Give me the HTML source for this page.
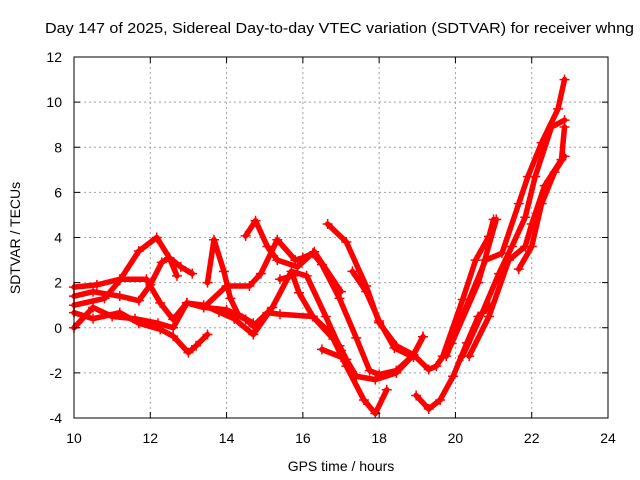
<!DOCTYPE html>
<html><head><meta charset="utf-8"><style>
body{margin:0;background:#fff}
svg{display:block;font-family:"Liberation Sans",sans-serif}
</style></head><body>
<svg id="chart" width="640" height="480" xmlns="http://www.w3.org/2000/svg">
<text x="45" y="33" font-size="15" textLength="589" lengthAdjust="spacingAndGlyphs">Day 147 of 2025, Sidereal Day-to-day VTEC variation (SDTVAR) for receiver whng</text>
<text x="341" y="471" font-size="14" text-anchor="middle">GPS time / hours</text>
<text transform="translate(20,238) rotate(-90)" font-size="14" text-anchor="middle">SDTVAR / TECUs</text>
<g id="grid"></g><g id="series"></g><g id="axes"></g>
</svg>
<script>
const xTicks=[10,12,14,16,18,20,22,24];
const yTicks=[-4,-2,0,2,4,6,8,10,12];
const trackA=[[10,1.0],[10.8,1.3],[11.2,2.1],[11.7,3.4],[12.17,4.0],[12.5,3.1],[12.8,2.7],[13.1,2.4]];
const trackA2=[[12.5,3.1],[12.7,2.3]];
const trackC=[[10.0,1.4],[10.5,1.6],[11.2,1.4],[11.7,1.2],[12.0,1.9],[12.3,2.9],[12.5,3.1]];
const trackD=[[10.0,1.8],[10.6,1.9],[11.2,2.15],[11.9,2.15],[12.26,1.1],[12.6,0.37],[12.96,1.1],[13.4,0.9],[14.0,0.8],[14.5,0.37],[14.7,0.07],[15.07,0.67],[15.4,0.6],[16.26,0.5],[16.7,-0.2],[16.96,-0.8],[17.14,-1.4],[17.4,-2.15],[17.9,-2.3],[18.45,-2.0],[18.9,-1.2],[19.15,-0.4]];
const trackE=[[10.0,0.67],[10.5,0.4],[11.2,0.67],[11.7,0.2],[12.26,-0.07],[12.6,-0.37],[13.0,-1.1],[13.2,-0.8],[13.5,-0.3]];
const trackF=[[10.0,0.0],[10.5,0.9],[11.0,0.5],[11.6,0.4],[12.2,0.2],[12.6,0.0],[12.96,1.1],[13.4,1.0],[13.8,0.7],[14.2,0.4],[14.7,-0.3],[15.2,0.9],[15.7,2.5],[16.1,2.3],[16.6,0.5],[17.0,-1.0]];
const trackG=[[13.5,2.0],[13.67,3.9],[13.93,2.5],[14.1,1.3],[14.3,0.6],[14.7,0.2]];
const trackH=[[13.4,0.9],[14.0,1.85],[14.6,1.85],[14.9,2.4],[15.33,3.9],[15.8,3.0],[16.0,3.1],[16.26,3.3],[16.5,2.8],[16.96,1.3],[17.4,-0.45],[17.75,-1.9],[18.0,-2.07],[18.45,-1.9],[18.9,-1.2],[19.15,-0.4]];
const trackI=[[14.5,4.07],[14.76,4.74],[15.07,3.6],[15.33,3.0],[15.86,2.7],[16.3,3.37],[17.0,1.6]];
const trackJ=[[15.4,2.15],[15.74,2.3],[15.9,1.55],[16.26,0.5],[16.8,-0.5],[17.14,-1.7],[17.6,-3.2],[17.9,-3.8],[18.2,-2.75]];
const trackK=[[16.65,4.6],[17.14,3.8],[17.66,1.85],[18.0,0.22],[18.45,-0.8],[18.9,-1.2],[19.3,-1.85],[19.5,-1.7],[19.9,-0.7],[20.6,2.0],[21.07,4.8]];
const trackL=[[17.3,2.5],[17.66,1.6],[18.0,0.3],[18.4,-0.9],[18.9,-1.3]];
const trackM=[[16.5,-0.96],[17.0,-1.3]];
const trackN=[[18.97,-3.0],[19.3,-3.6],[19.6,-3.2],[19.94,-2.15],[20.3,-0.67],[20.6,0.5],[20.9,0.95]];
const trackO=[[19.67,-1.26],[20.19,1.25],[20.53,3.0],[20.88,4.05],[21.0,4.8]];
const trackP=[[19.76,-1.26],[20.36,1.25],[20.79,3.0],[21.22,3.3],[21.66,5.5],[21.9,6.7],[22.26,8.2],[22.69,9.7],[22.86,11.0]];
const trackQ=[[20.19,-1.26],[20.7,0.65],[21.14,2.4],[21.48,3.6],[21.83,4.9],[22.09,6.7],[22.52,8.9],[22.86,9.2]];
const trackR=[[20.36,-1.26],[20.88,0.5],[21.4,3.0],[21.83,3.6],[22.0,4.6],[22.34,6.3],[22.78,7.45],[22.86,8.9]];
const trackS=[[21.66,2.6],[22.0,3.6],[22.26,5.5],[22.6,6.9],[22.86,7.6]];
const tracks=[trackA,trackA2,trackC,trackD,trackE,trackF,trackG,trackH,trackI,trackJ,trackK,trackL,trackM,trackN,trackO,trackP,trackQ,trackR,trackS];

const L=74,R=608,T=57,B=418,xmin=10,xmax=24,ymin=-4,ymax=12;
const sx=h=>L+(h-xmin)/(xmax-xmin)*(R-L);
const sy=v=>B-(v-ymin)/(ymax-ymin)*(B-T);
const NS="http://www.w3.org/2000/svg";
function mk(tag,attrs,parent){const e=document.createElementNS(NS,tag);for(const k in attrs)e.setAttribute(k,attrs[k]);parent.appendChild(e);return e;}
const grid=document.getElementById('grid'),axes=document.getElementById('axes'),ser=document.getElementById('series');
xTicks.forEach(t=>{const x=sx(t);
 if(t>xmin&&t<xmax){const g=mk('line',{x1:x,x2:x,y1:T,y2:B,stroke:'#a0a0a0','stroke-dasharray':'2,3'},grid);
 
 }
 mk('line',{x1:x,x2:x,y1:B,y2:B-6,stroke:'#000'},axes);mk('line',{x1:x,x2:x,y1:T,y2:T+6,stroke:'#000'},axes);
 const tx=mk('text',{x:x,y:B+25,'font-size':14,'text-anchor':'middle'},axes);tx.textContent=t;
 
 });
yTicks.forEach(t=>{const y=sy(t);
 if(t>ymin&&t<ymax){const g=mk('line',{x1:L,x2:R,y1:y,y2:y,stroke:'#a0a0a0','stroke-dasharray':'2,3'},grid);
 
 }
 mk('line',{x1:L,x2:L+6,y1:y,y2:y,stroke:'#000'},axes);mk('line',{x1:R,x2:R-6,y1:y,y2:y,stroke:'#000'},axes);
 const tx=mk('text',{x:62,y:y+5,'font-size':14,'text-anchor':'end'},axes);tx.textContent=t;
 
 });
const fr=mk('rect',{x:L,y:T,width:R-L,height:B-T,fill:'none',stroke:'#000'},axes);


tracks.forEach((tr,i)=>{
 const p=mk('polyline',{points:tr.map(d=>sx(d[0])+','+sy(d[1])).join(' '),fill:'none',stroke:'#ff0000','stroke-width':5.5,'stroke-linejoin':'round','stroke-linecap':'round'},ser);
 
 
 tr.forEach(d=>{const x=sx(d[0]),y=sy(d[1]);
  const m=mk('path',{d:`M${x-5},${y}h10M${x},${y-5}v10`,stroke:'#ff0000','stroke-width':1.5},ser);
  
  });
});
</script>
</body></html>
